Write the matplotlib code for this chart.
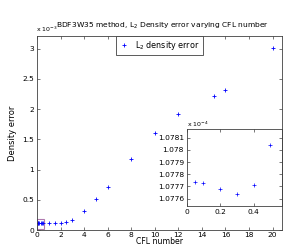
import matplotlib.pyplot as plt
import numpy as np
from matplotlib.patches import Rectangle
from matplotlib.ticker import FuncFormatter

# CFL numbers and L2 density error (main plot)
cfl = [0.05, 0.1, 0.2, 0.3, 0.4, 0.5, 1, 1.5, 2, 2.5, 3, 4, 5, 6, 8, 10, 12, 15, 16, 20]
err = [1.07774e-4, 1.07773e-4, 1.07768e-4, 1.07764e-4, 1.07771e-4, 1.07804e-4,
       0.110e-3, 0.115e-3, 0.122e-3, 0.135e-3, 0.170e-3, 0.320e-3, 0.505e-3, 0.715e-3,
       1.175e-3, 1.605e-3, 1.920e-3, 2.210e-3, 2.310e-3, 3.010e-3]

# zoomed part (inset)
cfl_small = cfl[:6]
err_small = err[:6]

blue = (0, 0, 1)
axcol = "#404040"
plt.rcParams["font.size"] = 5.5
plt.rcParams["font.family"] = "DejaVu Sans"

fig = plt.figure(figsize=(2.84, 2.49), dpi=100)
ax = fig.add_axes([37 / 284, 1 - 230 / 249, 245 / 284, 194 / 249])
ax.plot(cfl, err, "+", color=blue, markersize=3.5, markeredgewidth=0.6, label="L$_2$ density error")
ax.add_patch(Rectangle((0, 0.01e-3), 0.6, 0.18e-3, fill=False, edgecolor="#b07ab0", linewidth=0.8))
ax.set_xlim(0, 20.8)
ax.set_ylim(0, 3.21e-3)
ax.set_xticks(np.arange(0, 21, 2))
ax.set_yticks(np.arange(0, 3.01e-3, 0.5e-3))
ax.yaxis.set_major_formatter(FuncFormatter(lambda v, p: f"{v * 1e3:g}"))
ax.text(-0.005, 1.01, r"x 10$^{-3}$", transform=ax.transAxes, fontsize=4.5, ha="left", va="bottom")
ax.set_title("BDF3W35 method, L$_2$ Density error varying CFL number", fontsize=5.4, pad=6, x=0.51)
ax.set_xlabel("CFL number", fontsize=5.6, labelpad=-0.5)
ax.set_ylabel("Density error", fontsize=6, labelpad=4)
leg = ax.legend(loc="upper center", fancybox=False, edgecolor=axcol, framealpha=1,
                borderaxespad=0, handlelength=1.2, fontsize=5.8)
leg.get_frame().set_linewidth(0.6)

ins = fig.add_axes([186.7 / 284, 1 - 206 / 249, 95.3 / 284, 77 / 249])
ins.plot(cfl_small, err_small, "+", color=blue, markersize=3, markeredgewidth=0.5)
ins.set_xlim(0, 0.57)
ins.set_ylim(1.07754e-4, 1.07817e-4)
ins.set_xticks([0, 0.2, 0.4])
ins.set_xticklabels(["0", "0.2", "0.4"])
ins.set_yticks(np.arange(1.0776e-4, 1.07811e-4, 0.0001e-4))
ins.yaxis.set_major_formatter(FuncFormatter(lambda v, p: f"{v * 1e4:.5g}"))
ins.text(0, 1.005, r"x 10$^{-4}$", transform=ins.transAxes, fontsize=4.5, ha="left", va="bottom")

for a in (ax, ins):
    a.tick_params(direction="in", top=True, right=True, length=2, width=0.5,
                  colors=axcol, labelcolor="black", pad=2, labelsize=5.4)
    for s in a.spines.values():
        s.set_color(axcol)
        s.set_linewidth(0.6)
ax.tick_params(axis="x", pad=1.5)

fig.savefig("out.png", dpi=100)
